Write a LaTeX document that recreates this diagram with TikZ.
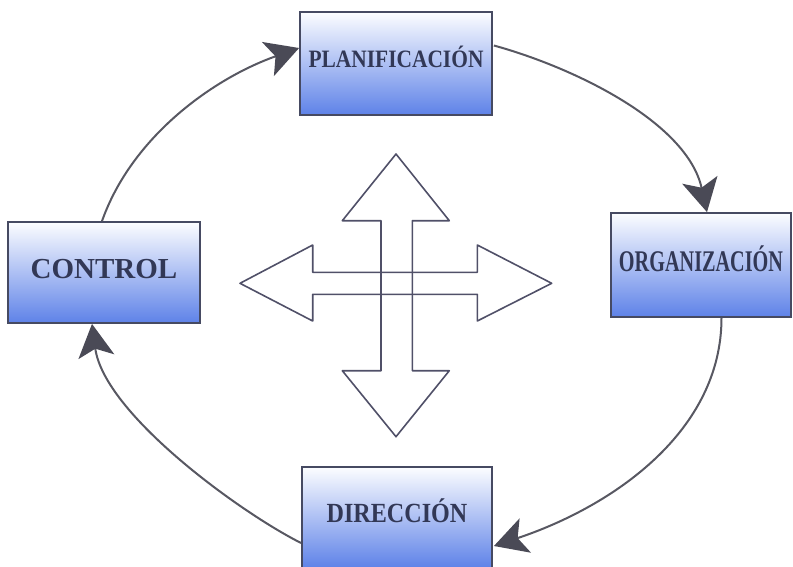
\documentclass[tikz,border=0pt]{standalone}
\usepackage{fontspec}
\setmainfont{Liberation Serif}
\usetikzlibrary{arrows.meta,calc}

\definecolor{boxedge}{RGB}{70,74,98}
\definecolor{boxtop}{RGB}{252,253,255}
\definecolor{boxbottom}{RGB}{94,130,232}
\definecolor{labeltext}{RGB}{50,56,86}
\definecolor{cycleline}{RGB}{88,88,98}
\definecolor{cyclehead}{RGB}{74,74,86}
\definecolor{crossline}{RGB}{80,80,104}

\tikzset{
  stage/.style={draw=boxedge, line width=1.8pt, top color=boxtop,
    bottom color=boxbottom, inner sep=0pt, text=labeltext, text depth=8pt},
  cyclearrow/.style={draw=cycleline, line width=2pt,
    -{Stealth[length=33pt,width=36pt,inset=8pt,color=cyclehead]}},
  crossarrow/.style={draw=crossline, line width=1.6pt, line join=round}
}

\newcommand{\stagelabel}[3]{\scalebox{#2}[1]{\fontsize{#1}{#1}\selectfont\bfseries #3}}

\begin{document}
\begin{tikzpicture}[x=1pt,y=-1pt]
\useasboundingbox (0,0) rectangle (793,566);

% the four stages of the management cycle
\node[stage, minimum width=192pt, minimum height=103pt, text height=16.5pt]
  (plan) at (396,63.5) {\stagelabel{25}{0.857}{PLANIFICACIÓN}};
\node[stage, minimum width=192pt, minimum height=101pt, text height=19.5pt]
  (ctrl) at (104,272.5) {\stagelabel{29}{1}{CONTROL}};
\node[stage, minimum width=180pt, minimum height=104pt, text height=20pt]
  (org) at (701,265) {\stagelabel{30}{0.674}{ORGANIZACIÓN}};
\node[stage, minimum width=190pt, minimum height=101pt, text height=18pt]
  (dir) at (397,517.5) {\stagelabel{27.7}{0.87}{DIRECCIÓN}};

% curved arrows closing the cycle
\draw[cyclearrow] ($(ctrl.north)+(-2,0)$) .. controls +(30,-85) and +(-85,30) .. ($(plan.west)+(0,-15.5)$);
\draw[cyclearrow] ($(plan.east)+(1,-18)$) .. controls +(80,22) and +(-20,-90) .. ($(org.north)+(6,0)$);
\draw[cyclearrow] ($(org.south)+(20.5,0)$) .. controls +(0,113) and +(120,-40) .. ($(dir.east)+(1,28.5)$);
\draw[cyclearrow] ($(dir.west)+(0,25.5)$) .. controls +(-60,-30) and +(12,90) .. ($(ctrl.south)+(-12,0)$);

% central four-way arrow: two overlapping outlined double arrows
\draw[crossarrow] (396,154) -- (449.3,220.7) -- (412.3,220.7) -- (412.3,370.7)
  -- (449.3,370.7) -- (396,436.7) -- (342.3,370.7) -- (381,370.7)
  -- (381,220.7) -- (342.3,220.7) -- cycle;
\draw[crossarrow] (240,283.3) -- (312.7,245) -- (312.7,272.3) -- (477.3,272.3)
  -- (477.3,245) -- (551.7,283.3) -- (477.3,321) -- (477.3,294.3)
  -- (312.7,294.3) -- (312.7,321) -- cycle;
\end{tikzpicture}
\end{document}
